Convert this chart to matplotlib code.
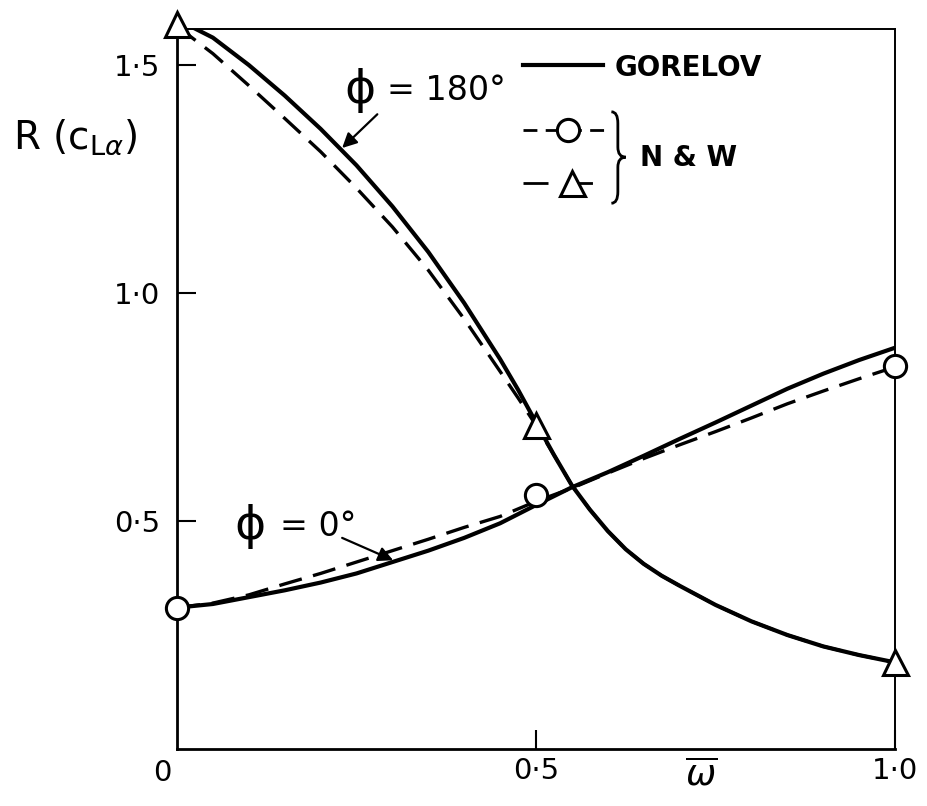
import matplotlib
matplotlib.use('Agg')
import matplotlib.pyplot as pyplot
from matplotlib.patches import PathPatch
from matplotlib.path import Path


# Frequency parameter along the horizontal axis; the phi = 180 deg curves
# bend sharply near 0.5 so they are sampled more finely there.
OMEGA_BAR = [0.0, 0.05, 0.1, 0.15, 0.2, 0.25, 0.3, 0.35, 0.4, 0.45, 0.5,
             0.55, 0.6, 0.65, 0.7, 0.75, 0.8, 0.85, 0.9, 0.95, 1.0]
OMEGA_BAR_FINE = [0.0, 0.05, 0.1, 0.15, 0.2, 0.25, 0.3, 0.35, 0.4, 0.45,
                  0.475, 0.5, 0.525, 0.55, 0.575, 0.6, 0.625, 0.65, 0.675,
                  0.7, 0.75, 0.8, 0.85, 0.9, 0.95, 1.0]

# Gorelov's theory, R(c_L alpha) for the two phase angles.
GORELOV_PHI_180 = [1.60, 1.56, 1.50, 1.433, 1.36, 1.28, 1.19, 1.09, 0.978,
                   0.855, 0.788, 0.716, 0.645, 0.578, 0.525, 0.478, 0.438,
                   0.406, 0.38, 0.358, 0.316, 0.28, 0.25, 0.225, 0.206, 0.19]
GORELOV_PHI_0 = [0.31, 0.318, 0.333, 0.348, 0.365, 0.385, 0.41, 0.435, 0.463,
                 0.495, 0.535, 0.574, 0.607, 0.643, 0.68, 0.716, 0.753, 0.79,
                 0.823, 0.853, 0.88]

# N & W faired curves.
NW_PHI_180 = [1.585, 1.525, 1.455, 1.383, 1.31, 1.23, 1.145, 1.05, 0.943,
              0.828, 0.77, 0.71, 0.645, 0.578, 0.525, 0.478, 0.438, 0.406,
              0.38, 0.358, 0.316, 0.28, 0.25, 0.225, 0.206, 0.19]
NW_PHI_0 = [0.31, 0.32, 0.338, 0.362, 0.385, 0.41, 0.435, 0.46, 0.486, 0.51,
            0.543, 0.572, 0.605, 0.637, 0.667, 0.696, 0.726, 0.757, 0.785,
            0.812, 0.838]

# N & W computed points.
NW_POINT_OMEGA = [0.0, 0.5, 1.0]
NW_POINT_PHI_0 = [0.31, 0.557, 0.84]
NW_POINT_PHI_180 = [1.59, 0.71, 0.19]

X_TICKS = [0.5, 1.0]
X_TICK_LABELS = ['0·5', '1·0']
Y_TICKS = [0.5, 1.0, 1.5]
Y_TICK_LABELS = ['0·5', '1·0', '1·5']

FONT = 'DejaVu Sans'
DASHES = (7, 3.5)
MARKER_STYLE = dict(markersize=16, markerfacecolor='white',
                    markeredgecolor='black', markeredgewidth=2.2)


def configure_axes(axes):
    axes.set_xlim(0, 1.0)
    axes.set_ylim(0, 1.579)
    axes.set_xticks(X_TICKS)
    axes.set_xticklabels(X_TICK_LABELS)
    axes.set_yticks(Y_TICKS)
    axes.set_yticklabels(Y_TICK_LABELS)
    axes.tick_params(direction='in', length=14, width=1.5, labelsize=21,
                     colors='black')
    axes.tick_params(axis='x', pad=6)
    axes.tick_params(axis='y', pad=12)
    for side in ('left', 'bottom'):
        axes.spines[side].set_linewidth(2.0)
    for side in ('top', 'right'):
        axes.spines[side].set_linewidth(1.4)
    # origin label sits off to the left of the corner
    axes.annotate('0', xy=(0, 0), xycoords='axes fraction',
                  xytext=(-15, -24), textcoords='offset pixels',
                  ha='center', va='center', fontsize=21)
    axes.text(0.73, -0.036, r'$\overline{\omega}$', transform=axes.transAxes,
              ha='center', va='center', fontsize=26)


def draw_curves(axes):
    axes.plot(OMEGA_BAR_FINE, GORELOV_PHI_180, color='black', lw=3.0,
              solid_capstyle='round', solid_joinstyle='round')
    axes.plot(OMEGA_BAR, GORELOV_PHI_0, color='black', lw=3.0,
              solid_capstyle='round', solid_joinstyle='round')
    axes.plot(OMEGA_BAR_FINE, NW_PHI_180, color='black', lw=2.4,
              dashes=DASHES)
    axes.plot(OMEGA_BAR, NW_PHI_0, color='black', lw=2.4, dashes=DASHES)
    axes.plot(NW_POINT_OMEGA, NW_POINT_PHI_0, linestyle='none', marker='o',
              clip_on=False, zorder=5, **MARKER_STYLE)
    axes.plot(NW_POINT_OMEGA, NW_POINT_PHI_180, linestyle='none', marker='^',
              clip_on=False, zorder=5, **dict(MARKER_STYLE, markersize=18))


def phase_label(axes, x, y, value, value_x):
    axes.text(x, y, 'ϕ', ha='center', va='center', fontsize=34)
    axes.text(value_x, y, '= {}°'.format(value), ha='left', va='center',
              fontsize=24)


def draw_phase_labels(axes):
    arrow = dict(arrowstyle='-|>', color='black', lw=1.6, mutation_scale=22,
                 shrinkA=0, shrinkB=0)
    axes.annotate('', xy=(0.23, 1.318), xytext=(0.279, 1.392),
                  arrowprops=arrow)
    phase_label(axes, 0.255, 1.445, 180, 0.292)
    axes.annotate('', xy=(0.301, 0.414), xytext=(0.23, 0.463),
                  arrowprops=arrow)
    phase_label(axes, 0.102, 0.487, 0, 0.143)


def draw_key(axes):
    tr = axes.transAxes
    axes.plot([0.482, 0.593], [0.95, 0.95], color='black', lw=3.0,
              transform=tr, clip_on=False)
    axes.text(0.61, 0.946, 'GORELOV', transform=tr, ha='left', va='center',
              fontsize=20, fontweight='bold')

    axes.plot([0.482, 0.598], [0.860, 0.860], color='black', lw=2.0,
              dashes=(5, 3), transform=tr, clip_on=False)
    axes.plot([0.545], [0.860], marker='o', transform=tr, clip_on=False,
              **MARKER_STYLE)
    axes.plot([0.482, 0.598], [0.786, 0.786], color='black', lw=2.0,
              dashes=(9, 7), transform=tr, clip_on=False)
    axes.plot([0.550], [0.786], marker='^', transform=tr, clip_on=False,
              **dict(MARKER_STYLE, markersize=18))

    # curly brace grouping the two N & W symbols
    x0, top, mid, bottom = 0.614, 0.885, 0.822, 0.758
    verts = [(x0 - 0.009, top), (x0, top), (x0, top - 0.016),
             (x0, mid + 0.014), (x0, mid), (x0 + 0.011, mid),
             (x0, mid), (x0, mid - 0.014),
             (x0, bottom + 0.016), (x0, bottom), (x0 - 0.009, bottom)]
    codes = [Path.MOVETO, Path.CURVE3, Path.CURVE3,
             Path.LINETO, Path.CURVE3, Path.CURVE3,
             Path.CURVE3, Path.CURVE3,
             Path.LINETO, Path.CURVE3, Path.CURVE3]
    axes.add_patch(PathPatch(Path(verts, codes), facecolor='none',
                             edgecolor='black', lw=2.0, transform=tr,
                             clip_on=False))
    axes.text(0.645, 0.821, 'N & W', transform=tr, ha='left', va='center',
              fontsize=20, fontweight='bold')


def main():
    pyplot.rcParams['font.family'] = [FONT]
    figure = pyplot.figure(figsize=(9.28, 8.06), dpi=100)
    axes = figure.add_axes([177 / 928, 57 / 806, 718 / 928, 720 / 806])
    configure_axes(axes)
    draw_curves(axes)
    draw_phase_labels(axes)
    draw_key(axes)
    figure.text(13 / 928, 1 - 149 / 806, r'R (c$_{\mathregular{L}\alpha}$)',
                ha='left', va='baseline', fontsize=28)
    figure.savefig('out.png', dpi=100)


if __name__ == '__main__':
    main()
